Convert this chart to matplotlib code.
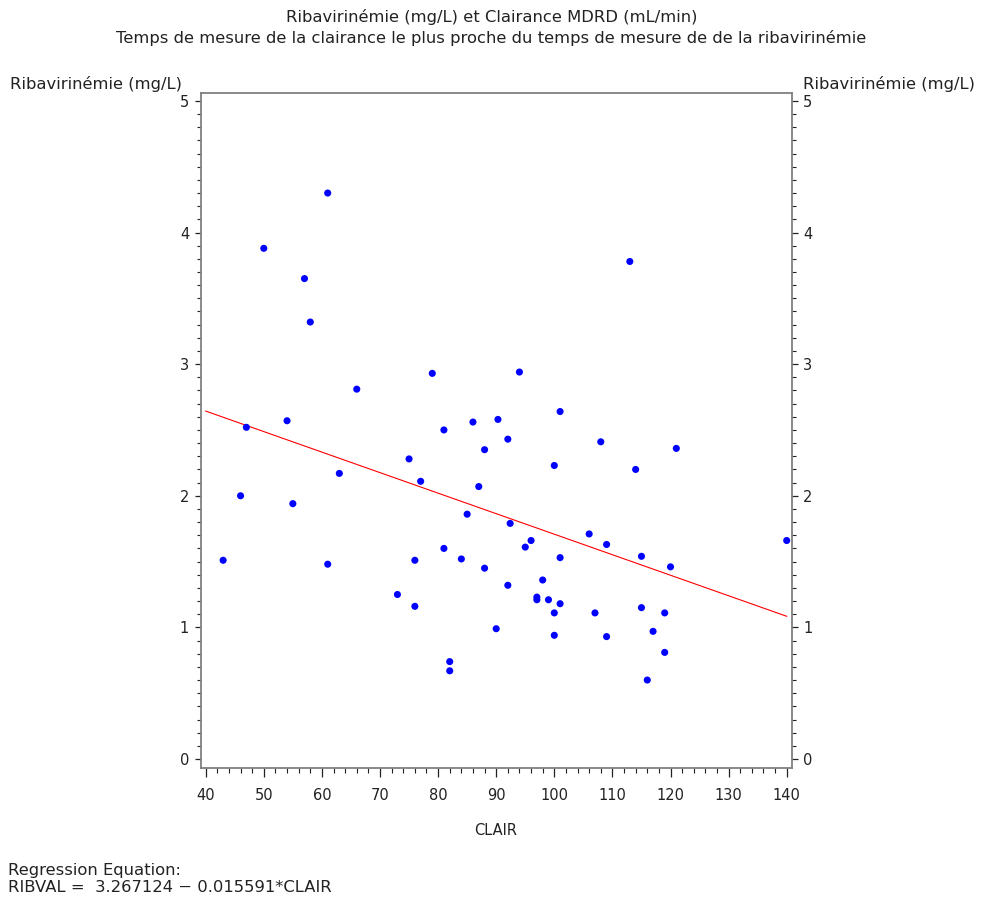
import matplotlib
matplotlib.use("Agg")
import matplotlib.pyplot as plt
from matplotlib.ticker import MultipleLocator
import numpy as np

clair = [61, 50, 57, 58, 79, 66, 54, 86, 90.3, 47, 81, 113, 94, 101,
         92, 88, 75, 63, 77, 87, 46, 55, 85, 92.4, 81, 43, 76, 84, 61, 88,
         92, 73, 76, 90, 82, 82, 108, 100, 121, 114, 106, 96, 95, 109, 140,
         101, 115, 120, 98, 97, 97, 99, 101, 100, 107, 115, 119, 100, 109,
         117, 119, 116]
ribval = [4.30, 3.88, 3.65, 3.32, 2.93, 2.81, 2.57, 2.56, 2.58, 2.52, 2.50, 3.78, 2.94, 2.64,
          2.43, 2.35, 2.28, 2.17, 2.11, 2.07, 2.00, 1.94, 1.86, 1.79, 1.60, 1.51, 1.51, 1.52, 1.48, 1.45,
          1.32, 1.25, 1.16, 0.99, 0.74, 0.67, 2.41, 2.23, 2.36, 2.20, 1.71, 1.66, 1.61, 1.63, 1.66,
          1.53, 1.54, 1.46, 1.36, 1.23, 1.21, 1.21, 1.18, 1.11, 1.11, 1.15, 1.11, 0.94, 0.93,
          0.97, 0.81, 0.60]

intercept = 3.267124
slope = -0.015591
x_ticks = [40, 50, 60, 70, 80, 90, 100, 110, 120, 130, 140]
y_ticks = [0, 1, 2, 3, 4, 5]

title1 = "Ribavirinémie (mg/L) et Clairance MDRD (mL/min)"
title2 = "Temps de mesure de la clairance le plus proche du temps de mesure de de la ribavirinémie"
ylab = "Ribavirinémie (mg/L)"
xlab = "CLAIR"
eq1 = "Regression Equation:"
eq2 = "RIBVAL =  3.267124 − 0.015591*CLAIR"

plt.rcParams['font.family'] = ['DejaVu Sans']
FS = 10.5
FT = 11.8
TC = '#222222'
W, H = 983, 897
fig = plt.figure(figsize=(W/100, H/100), dpi=100)
ax = fig.add_axes([200.7/W, 1-767.7/H, (791.7-200.7)/W, (767.7-93)/H])

ax.scatter(clair, ribval, s=26, color='#0000FF', edgecolors='none', zorder=3)
xl = np.array([40, 140])
ax.plot(xl, intercept + slope*xl, color='#FF0000', lw=0.8, zorder=2)

ax.set_xlim(39.14, 140.86)
ax.set_ylim(-0.066, 5.06)
ax.set_xticks(x_ticks)
ax.set_yticks(y_ticks)
ax.xaxis.set_minor_locator(MultipleLocator(2))
ax.yaxis.set_minor_locator(MultipleLocator(0.1))
ax.tick_params(axis='x', which='major', length=6.5, width=0.9, direction='out', pad=8, labelsize=FS, colors=TC)
ax.tick_params(axis='x', which='minor', length=3.6, width=0.8, direction='out', colors=TC)
ax.tick_params(axis='y', which='major', length=4.3, width=0.9, direction='out', pad=4, labelsize=FS,
               left=True, right=True, labelleft=True, labelright=True, colors=TC)
ax.tick_params(axis='y', which='minor', length=2.9, width=0.8, direction='out', left=True, right=True, colors=TC)
for sp in ax.spines.values():
    sp.set_color('#808080')
    sp.set_linewidth(1.3)

fig.text(0.5, 1-17/H, title1, ha='center', va='center', fontsize=FT, color=TC)
fig.text(0.5, 1-38/H, title2, ha='center', va='center', fontsize=FT, color=TC)
fig.text(10/W, 1-84/H, ylab, ha='left', va='center', fontsize=FT, color=TC)
fig.text(803/W, 1-84/H, ylab, ha='left', va='center', fontsize=FT, color=TC)
fig.text(496/W, 1-830/H, xlab, ha='center', va='center', fontsize=FS, color=TC)
fig.text(8/W, 1-870/H, eq1, ha='left', va='center', fontsize=FT, color=TC)
fig.text(8/W, 1-887/H, eq2, ha='left', va='center', fontsize=FT, color=TC)

fig.savefig("out.png", dpi=100)
